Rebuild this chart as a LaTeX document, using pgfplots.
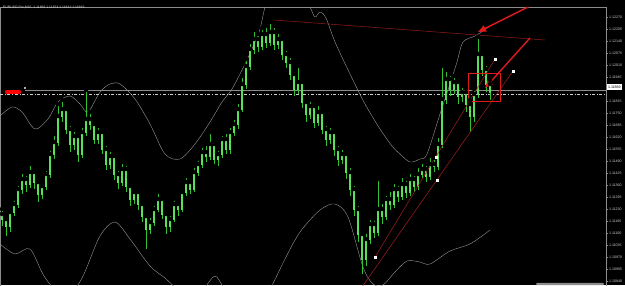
\documentclass[border=0pt]{standalone}
\usepackage{fontspec}
\setmainfont{Liberation Sans}
\usepackage{pgfplots}
\pgfplotsset{compat=1.18}
\usepackage{pgfplotstable}
\usetikzlibrary{arrows.meta}
\definecolor{cwick}{RGB}{50,195,50}
\definecolor{cbody}{RGB}{90,225,90}
\definecolor{band}{RGB}{150,150,150}
\definecolor{trend}{RGB}{165,30,30}
\definecolor{trendtop}{RGB}{140,25,25}
\definecolor{arrowred}{RGB}{225,25,25}
\definecolor{axgray}{RGB}{140,140,140}
\definecolor{txtgray}{RGB}{205,205,205}

% candles: x = bar position, o h l c = price (scale of the chart, top = high)
\pgfplotstableread{
x o h l c
2 210 205 222 215
6 215 212 232 222
10 222 204 228 208
14 208 195 212 200
18 200 180 204 185
22 185 168 190 175
26 175 170 188 180
30 180 160 184 168
34 168 165 185 178
38 178 174 198 190
42 190 178 195 182
46 182 165 186 170
50 170 145 174 150
54 150 130 155 138
58 138 100 142 112
62 112 96 118 105
66 105 102 130 125
70 125 120 148 140
74 140 126 146 132
78 132 128 158 150
82 150 122 154 128
86 128 86 132 115
90 115 108 126 120
94 120 116 140 135
98 135 122 140 128
102 128 125 150 145
106 145 140 166 160
110 160 146 165 152
114 152 148 176 170
118 170 165 185 178
122 178 158 182 165
126 165 160 188 182
130 182 178 202 195
134 195 184 200 188
138 188 185 206 200
142 200 196 218 212
146 212 208 245 225
150 225 212 230 218
154 218 200 222 205
158 205 188 208 195
162 195 192 215 210
166 210 206 230 222
170 222 210 228 215
174 215 195 218 200
178 200 196 212 205
182 205 184 208 188
186 188 172 192 178
190 178 174 190 185
194 185 162 188 168
198 168 155 172 160
202 160 142 164 148
206 148 140 158 152
210 152 128 156 140
214 140 136 160 155
218 155 145 162 150
222 150 130 154 135
226 135 128 150 145
230 145 122 150 128
234 128 114 132 120
238 120 98 125 105
242 105 72 108 80
246 80 55 85 62
250 62 38 66 45
254 45 26 50 35
258 35 30 48 42
262 42 24 46 30
266 30 22 44 38
270 38 18 42 28
274 28 22 46 40
278 40 28 45 35
282 35 32 56 50
286 50 45 64 58
290 58 52 76 70
294 70 66 92 85
298 85 62 90 78
302 78 74 104 98
306 98 94 118 110
310 110 96 115 102
314 102 98 124 118
318 118 100 122 108
322 108 104 130 125
326 125 120 142 135
330 135 122 140 128
334 128 125 152 145
338 145 140 162 155
342 155 144 160 150
346 150 146 175 168
350 168 162 192 185
354 185 180 212 205
358 205 200 238 230
362 230 226 270 255
366 255 228 262 235
370 235 214 240 220
374 220 215 234 228
378 228 175 232 205
382 205 198 220 212
386 212 190 216 195
390 195 186 206 200
394 200 178 204 185
398 185 180 198 192
402 192 172 196 180
406 180 175 194 188
410 188 168 192 175
414 175 170 188 182
418 182 162 186 170
422 170 158 174 165
426 165 160 178 172
430 172 152 176 160
434 160 154 168 162
438 162 132 166 140
442 140 62 144 95
446 95 66 100 75
450 75 70 92 85
454 85 72 90 78
458 78 74 100 92
462 92 82 98 88
466 88 84 108 100
470 100 96 128 112
474 112 85 118 90
478 90 33 94 50
482 50 46 72 65
486 65 60 88 80
490 80 76 96 88
}\candles

\pgfplotstableread{
x y
0 112
12 103
22 108
35 125
48 115
58 98
70 92
80 100
88 108
100 88
110 80
120 80
135 95
150 120
165 150
180 155
195 140
210 118
222 98
232 85
245 60
255 38
260 25
265 3
272 -20
290 -30
302 -12
310 3
315 13
320 8
326 14
335 38
350 70
365 100
380 125
392 142
400 150
410 158
420 155
427 150
440 110
450 80
457 58
463 38
475 32
480 29
490 22
}\upband

\pgfplotstableread{
x y
0 240
15 250
30 245
44 272
60 290
75 284
84 270
100 232
115 218
130 235
150 262
165 274
176 284
190 292
204 284
215 272
224 284
240 305
255 315
268 290
285 255
300 228
320 206
335 200
348 213
363 263
373 280
383 281
395 268
407 257
420 258
430 260
450 247
470 240
490 226
}\lowband

\begin{document}
\begin{tikzpicture}[x=1pt,y=1pt]
\useasboundingbox (0,0) rectangle (625,285);
\fill[black] (0,0) rectangle (625,285);
\begin{axis}[
  at={(0,2)}, anchor=south west,
  scale only axis, width=606pt, height=280pt,
  xmin=0, xmax=606, ymin=3, ymax=283, y dir=reverse,
  axis line style={axgray, line width=0.6pt},
  xtick=\empty,
  ytick={13,25,37,49,61,73,97,109,121,133,145,157,169,181,193,205,217,229,241,253,265,277},
  yticklabels={1.12270,1.12205,1.12140,1.12075,1.12010,1.11945,1.11815,1.11750,1.11685,1.11620,1.11555,1.11490,1.11425,1.11360,1.11295,1.11230,1.11165,1.11100,1.11035,1.10970,1.10905,1.10840},
  ytick pos=right, yticklabel pos=right,
  tick align=outside, major tick length=2pt,
  tick style={axgray, line width=0.4pt},
  yticklabel style={font=\fontsize{3.6}{4}\selectfont, text=txtgray, inner sep=0.8pt},
]
% Bollinger bands
\addplot[band, line width=0.4pt, smooth, tension=0.5] table[x=x,y=y] {\upband};
\addplot[band, line width=0.4pt, smooth, tension=0.5] table[x=x,y=y] {\lowband};
% horizontal lines
\addplot[axgray, line width=0.45pt] coordinates {(25,86) (606,86)};
\addplot[txtgray, dash dot, line width=0.4pt] coordinates {(0,90) (606,90)};
% candle wicks
\addplot[only marks, mark=none, error bars/.cd, y dir=plus, y explicit, error mark=none,
  error bar style={draw=cwick, line width=0.7pt}]
  table[x=x, y=h, y error expr={\thisrow{l}-\thisrow{h}}] {\candles};
% candle bodies
\addplot[only marks, mark=none, error bars/.cd, y dir=plus, y explicit, error mark=none,
  error bar style={draw=cbody, line width=2pt}]
  table[x=x, y expr={min(\thisrow{o},\thisrow{c})}, y error expr={abs(\thisrow{o}-\thisrow{c})+0.8}] {\candles};
% trend lines
\addplot[trendtop, line width=0.55pt] coordinates {(274,16) (545,36)};
\addplot[trend, line width=0.5pt] coordinates {(375,253) (495,55)};
\addplot[trend, line width=0.5pt] coordinates {(362,283) (513,67)};
\addplot[only marks, mark=square*, mark size=0.7pt, draw=white, fill=white!85!red] coordinates {(495,55) (513,67) (436,153) (437,176) (375,253)};
% highlight box and arrows
\addplot[arrowred, line width=0.7pt] coordinates {(468,69) (500,69) (500,97) (468,97) (468,69)};
\addplot[arrowred, line width=1.4pt, {Triangle[length=8pt,width=6.5pt]}-] coordinates {(478,28) (538,-2)};
\addplot[arrowred, line width=1.4pt, {Triangle[length=8pt,width=6.5pt]}-] coordinates {(485,84) (530,34)};
% red object label on the price line
\addplot[red, line width=4.5pt, line cap=round] coordinates {(7,88) (19,88)};
\end{axis}
% title, price box, scroll bar
\node[anchor=west, text=txtgray, font=\fontsize{3.4}{4}\selectfont, inner sep=0pt] at (3,277) {EURUSD-Pro,M15 \ 1.11856 1.11874 1.11842 1.11869};
\node[anchor=west, fill=white, text=black, font=\fontsize{3.6}{4}\selectfont, inner sep=0.8pt, minimum height=6pt] at (607,198) {1.11869};
\fill[axgray!70] (24,196.5) rectangle (26,198.5);
\fill[axgray, rounded corners=1pt] (536,0) rectangle (604,2.2);
\end{tikzpicture}
\end{document}
